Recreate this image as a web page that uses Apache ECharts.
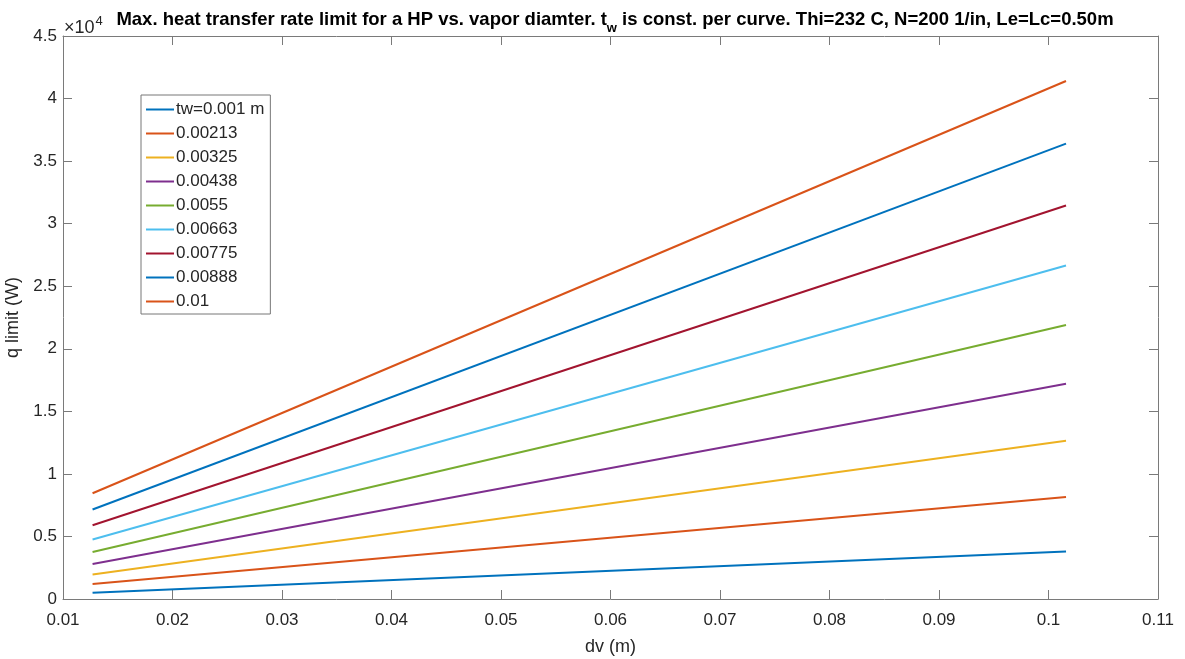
<!DOCTYPE html>
<html>
<head>
<meta charset="utf-8">
<script src="https://cdn.jsdelivr.net/npm/echarts@6/dist/echarts.min.js"></script>
<style>html,body{margin:0;padding:0;background:#fff}#c{width:1185px;height:659px}</style>
</head>
<body>
<div id="c"></div>
<script>
// Data
const dv = [0.0127, 0.1016];                 // vapor diameter (m), start and end of each curve
const seriesNames = ['tw=0.001 m','0.00213','0.00325','0.00438','0.0055','0.00663','0.00775','0.00888','0.01'];
const qStart = [500, 1200, 1950, 2800, 3750, 4750, 5900, 7150, 8450];     // q limit (W) at dv start
const qEnd   = [3800, 8150, 12650, 17200, 21900, 26650, 31450, 36400, 41400]; // q limit (W) at dv end
const colors = ['#0072BD','#D95319','#EDB120','#7E2F8E','#77AC30','#4DBEEE','#A2142F','#0072BD','#D95319'];

const axisColor = '#7a7a7a';
const textColor = '#262626';
const fontFam = '"Liberation Sans", Arial, Helvetica, sans-serif';

const series = seriesNames.map((n, i) => ({
  name: n,
  type: 'line',
  symbol: 'none',
  xAxisIndex: 0, yAxisIndex: 0,
  lineStyle: { color: colors[i], width: 2 },
  itemStyle: { color: colors[i] },
  data: [[dv[0], qStart[i]], [dv[1], qEnd[i]]],
  animation: false
}));

const chart = echarts.init(document.getElementById('c'));
const fmtX = v => String(parseFloat(v.toFixed(2)));
const fmtY = v => String(parseFloat((v / 10000).toFixed(2)));

chart.setOption({
  animation: false,
  backgroundColor: '#fff',
  title: {
    text: '{b|Max. heat transfer rate limit for a HP vs. vapor diamter. t}{s|w}{b| is const. per curve. Thi=232 C, N=200 1/in, Le=Lc=0.50m}',
    left: 610, textAlign: 'center', top: 4,
    textStyle: {
      rich: {
        b: { fontSize: 18.5, fontWeight: 'bold', color: '#000', fontFamily: fontFam, lineHeight: 22 },
        s: { fontSize: 13, fontWeight: 'bold', color: '#000', fontFamily: fontFam, lineHeight: 22, padding: [16, 0, 0, 0] }
      }
    }
  },
  graphic: [{
    type: 'text', left: 64, top: 13,
    style: {
      text: '{a|×10}{p|4}',
      rich: {
        a: { fontSize: 18, fill: textColor, fontFamily: fontFam, lineHeight: 22, padding: [6, 0, 0, 0] },
        p: { fontSize: 13, fill: textColor, fontFamily: fontFam, lineHeight: 22, padding: [0, 0, 7, 1] }
      }
    }
  }],
  legend: {
    orient: 'vertical', left: 141, top: 95,
    itemWidth: 28, itemHeight: 17, itemGap: 7,
    padding: [6, 6, 4, 4],
    borderColor: '#777', borderWidth: 1, backgroundColor: '#fff',
    itemStyle: { opacity: 0 },
    textStyle: { fontSize: 17, lineHeight: 17, color: textColor, fontFamily: fontFam, padding: [0, 0, 0, -3] },
    data: seriesNames
  },
  grid: { left: 63, right: 27, top: 36, bottom: 60, containLabel: false, outerBoundsMode: 'none' },
  xAxis: [{
    type: 'value', min: 0.01, max: 0.11, interval: 0.01,
    name: 'dv (m)', nameLocation: 'middle', nameGap: 39,
    nameTextStyle: { fontSize: 18, color: textColor, fontFamily: fontFam },
    axisLine: { onZero: false, lineStyle: { color: axisColor } },
    axisTick: { inside: true, length: 9, lineStyle: { color: axisColor } },
    axisLabel: { formatter: fmtX, fontSize: 17, color: textColor, fontFamily: fontFam, margin: 13 },
    splitLine: { show: false }
  }, {
    type: 'value', min: 0.01, max: 0.11, interval: 0.01, position: 'top',
    axisLine: { onZero: false, lineStyle: { color: axisColor } },
    axisTick: { inside: true, length: 9, lineStyle: { color: axisColor } },
    axisLabel: { show: false }, splitLine: { show: false }
  }],
  yAxis: [{
    type: 'value', min: 0, max: 45000, interval: 5000,
    name: 'q limit (W)', nameLocation: 'middle', nameGap: 26,
    nameTextStyle: { fontSize: 18, color: textColor, fontFamily: fontFam },
    axisLine: { show: true, onZero: false, lineStyle: { color: axisColor } },
    axisTick: { show: true, inside: true, length: 9, lineStyle: { color: axisColor } },
    axisLabel: { formatter: fmtY, fontSize: 17, color: textColor, fontFamily: fontFam, margin: 6 },
    splitLine: { show: false }
  }, {
    type: 'value', min: 0, max: 45000, interval: 5000, position: 'right',
    axisLine: { show: true, onZero: false, lineStyle: { color: axisColor } },
    axisTick: { show: true, inside: true, length: 9, lineStyle: { color: axisColor } },
    axisLabel: { show: false }, splitLine: { show: false }
  }],
  series: series
});
</script>
</body>
</html>
